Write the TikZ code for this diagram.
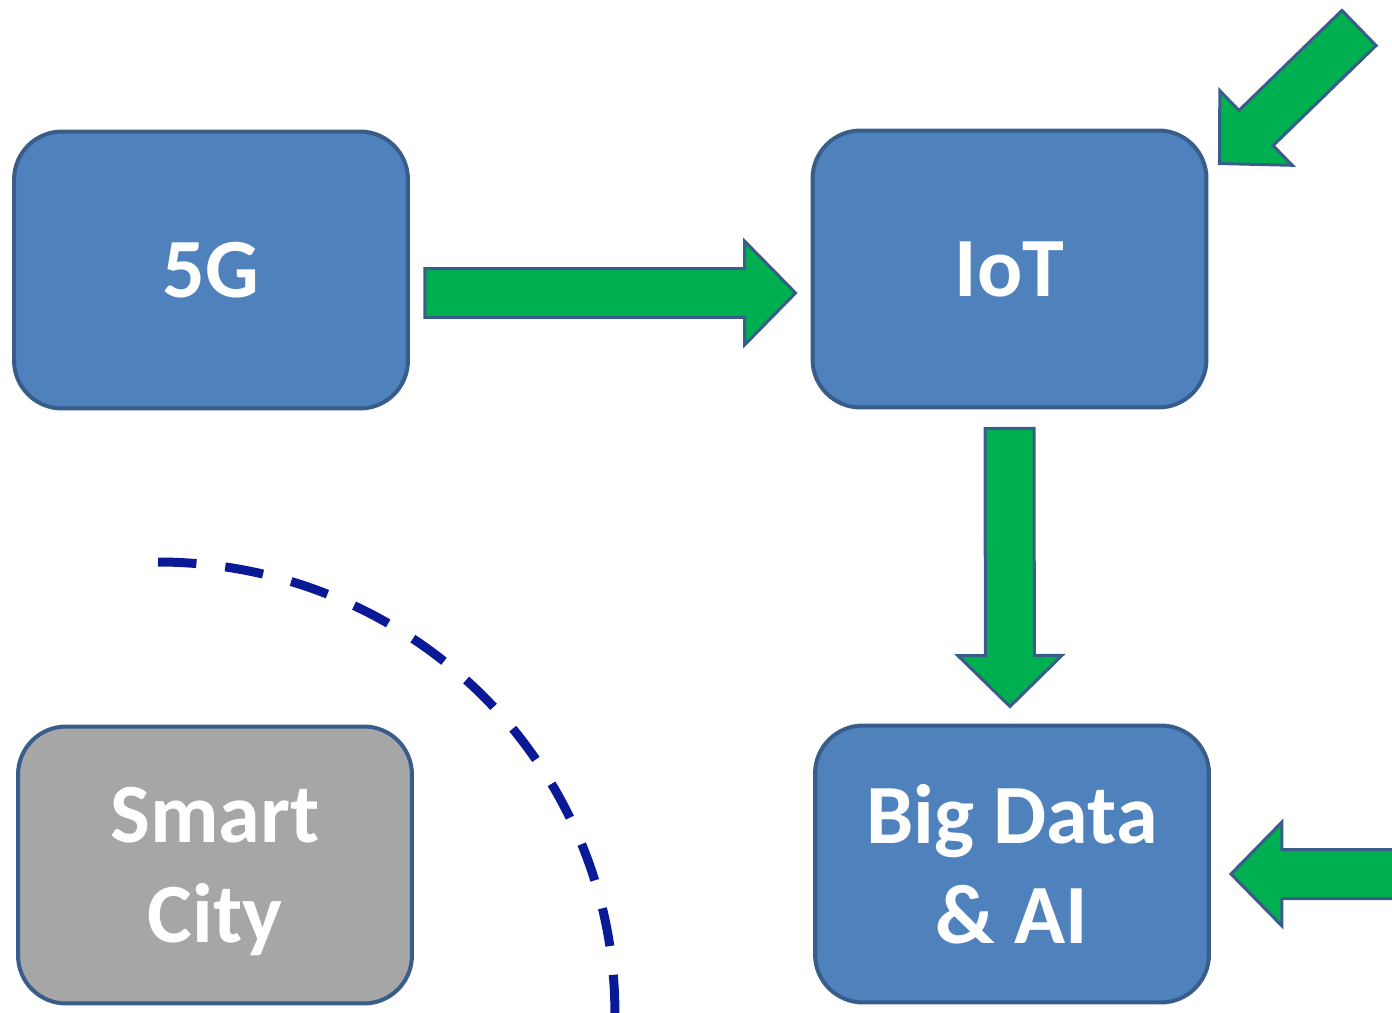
\documentclass[tikz,border=0pt]{standalone}
\usepackage{fontspec}
\setmainfont{Carlito}
\usetikzlibrary{calc}
\definecolor{BoxBlue}{RGB}{79,129,189}
\definecolor{EdgeBlue}{RGB}{56,93,138}
\definecolor{ArrowGreen}{RGB}{0,176,80}
\definecolor{BoxGray}{RGB}{166,166,166}
\definecolor{DashNavy}{RGB}{10,25,150}

\tikzset{
  box/.style={draw=EdgeBlue,line width=0.08cm,fill=BoxBlue,rounded corners=0.96cm,
    minimum width=7.88cm,minimum height=5.54cm,inner sep=0pt,align=center,text depth=0pt,
    text=white,font=\fontsize{48}{57}\selectfont\bfseries},
  graybox/.style={box,fill=BoxGray},
  greenarrow/.style={draw=EdgeBlue,line width=0.06cm,fill=ArrowGreen,line join=miter},
  dashedarc/.style={draw=DashNavy,line width=0.18cm,dash pattern=on 0.77cm off 0.58cm},
}

\begin{document}
\begin{tikzpicture}[x=0.02cm,y=-0.02cm]
\def\shaftw{0.49cm}
\def\headw{1.04cm}
\def\headlen{1.02cm}
% block arrow from #1 (tail) to #2 (tip)
\def\blockarrow#1#2{%
  \coordinate (hb) at ($(#2)!\headlen!(#1)$);
  \draw[greenarrow] ($(#1)!\shaftw!90:(#2)$) -- ($(hb)!\shaftw!-90:(#1)$) -- ($(hb)!\headw!-90:(#1)$) -- (#2)
    -- ($(hb)!\headw!90:(#1)$) -- ($(hb)!\shaftw!90:(#1)$) -- ($(#1)!\shaftw!-90:(#2)$) -- cycle;}
\path[use as bounding box,clip] (0,0) rectangle (1392,1013);

\node[box] (fiveg) at (211,270) {5G};
\node[box] (iot) at (1009.5,269) {IoT};
\node[graybox] (city) at (215,865) {Smart\\City};
\node[box] (bigdata) at (1012,864) {Big Data\\\& AI};

\coordinate (fivegout) at ($(fiveg.east)+(15,23)$);
\coordinate (iotin) at ($(iot.west)+(-15,24)$);
\coordinate (iotout) at ($(iot.south)+(0,19)$);
\coordinate (bigdatain) at ($(bigdata.north)+(-2,-17)$);
\coordinate (rightsrc) at (1400,874);
\coordinate (bigdataside) at ($(bigdata.east)+(20,10)$);
\coordinate (cornersrc) at (1359,28);
\coordinate (iotcorner) at ($(iot.north east)+(11,35)$);

\blockarrow{fivegout}{iotin}
\blockarrow{iotout}{bigdatain}
\blockarrow{rightsrc}{bigdataside}
\blockarrow{cornersrc}{iotcorner}

\draw[dashedarc] (158,562) arc[start angle=90,end angle=-3,x radius=9.14cm,y radius=9.02cm];

\end{tikzpicture}
\end{document}
